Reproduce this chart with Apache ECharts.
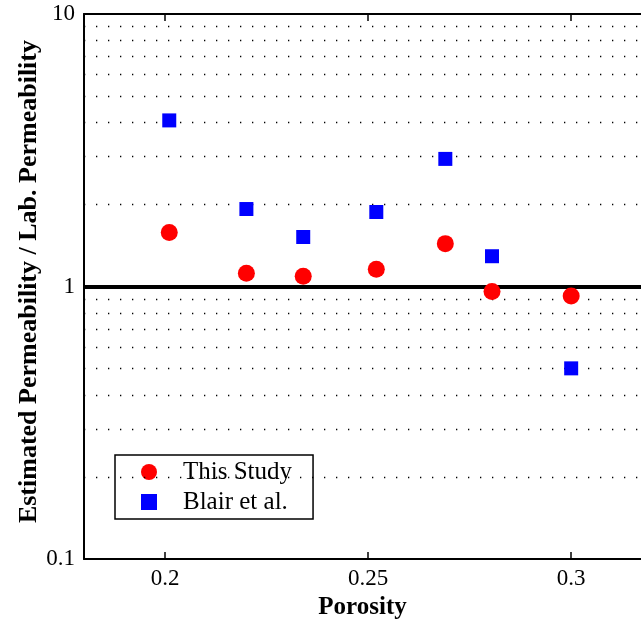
<!DOCTYPE html>
<html>
<head>
<meta charset="utf-8">
<script src="https://cdn.jsdelivr.net/npm/echarts@6/dist/echarts.min.js"></script>
<style>html,body{margin:0;padding:0;background:#fff;}#c{width:641px;height:625px;}</style>
</head>
<body>
<div id="c"></div>
<script>
const porosity = [0.201, 0.220, 0.234, 0.252, 0.269, 0.2805, 0.300];
const thisStudy = [1.58, 1.12, 1.09, 1.158, 1.437, 0.959, 0.924];
const blair = [4.07, 1.925, 1.52, 1.877, 2.94, 1.292, 0.501];
const xTicks = [0.2, 0.25, 0.3];
const gridValues = [0.2, 0.3, 0.4, 0.5, 0.6, 0.7, 0.8, 0.9, 2, 3, 4, 5, 6, 7, 8, 9];
const refValue = 1;

const font = 'Liberation Serif, Times New Roman, serif';
const chart = echarts.init(document.getElementById('c'), null, {renderer: 'canvas'});
chart.setOption({
  animation: false,
  backgroundColor: '#fff',
  textStyle: {fontFamily: font},
  grid: {left: 84, top: 14, right: 0, height: 546, containLabel: false},
  xAxis: [{
    type: 'value', min: 0.18, max: 0.3172, position: 'bottom',
    name: 'Porosity', nameLocation: 'middle', nameGap: 35,
    nameTextStyle: {fontFamily: font, fontWeight: 'bold', fontSize: 25, color: '#000'},
    axisLine: {lineStyle: {color: '#000', width: 2}},
    axisTick: {inside: true, length: 7, customValues: xTicks, lineStyle: {color: '#000', width: 1.5}},
    axisLabel: {customValues: xTicks, margin: 8, fontFamily: font, fontSize: 23, color: '#000',
      formatter: v => String(+(+v).toFixed(2))},
    splitLine: {show: false}
  }, {
    type: 'value', min: 0.18, max: 0.3172, position: 'top',
    axisLine: {lineStyle: {color: '#000', width: 2}},
    axisTick: {inside: true, length: 7, customValues: xTicks, lineStyle: {color: '#000', width: 1.5}},
    axisLabel: {show: false},
    splitLine: {show: false}
  }],
  yAxis: {
    type: 'log', logBase: 10, min: 0.1, max: 10,
    name: 'Estimated Permeability / Lab. Permeability', nameLocation: 'middle', nameGap: 42,
    nameMoveOverlap: false,
    nameTextStyle: {fontFamily: font, fontWeight: 'bold', fontSize: 26, color: '#000', padding: [0, 0, 0, 10]},
    axisLine: {lineStyle: {color: '#000', width: 2}},
    axisTick: {inside: true, length: 7, lineStyle: {color: '#000', width: 1.5}},
    axisLabel: {margin: 9, fontFamily: font, fontSize: 23, color: '#000',
      formatter: v => String(+(+v).toPrecision(3))},
    splitLine: {show: false},
    minorTick: {show: false}
  },
  legend: {
    orient: 'vertical', left: 115, top: 455,
    padding: [4.5, 21, 4.5, 26],
    itemGap: 5, itemWidth: 16, itemHeight: 16,
    borderColor: '#000', borderWidth: 1.5, backgroundColor: '#fff',
    textStyle: {fontFamily: font, fontSize: 25, color: '#000', padding: [0, 0, 0, 21]},
    data: [{name: 'This Study', icon: 'circle'}, {name: 'Blair et al.', icon: 'rect'}]
  },
  series: [
    {
      type: 'line', name: 'grid', data: [], silent: true,
      markLine: {
        silent: true, symbol: 'none', label: {show: false},
        lineStyle: {color: '#000', width: 1.3, type: [1.3, 10.7]},
        data: gridValues.map(v => ({yAxis: v}))
      }
    },
    {
      type: 'line', name: 'ref', data: [], silent: true,
      markLine: {
        silent: true, symbol: 'none', label: {show: false},
        lineStyle: {color: '#000', width: 4, type: 'solid'},
        data: [{yAxis: refValue}]
      }
    },
    {
      type: 'scatter', name: 'This Study', symbol: 'circle', symbolSize: 17,
      itemStyle: {color: '#ff0000', opacity: 1}, z: 5,
      data: porosity.map((x, i) => [x, thisStudy[i]])
    },
    {
      type: 'scatter', name: 'Blair et al.', symbol: 'rect', symbolSize: 14,
      itemStyle: {color: '#0000ff', opacity: 1}, z: 5,
      data: porosity.map((x, i) => [x, blair[i]])
    }
  ]
});
</script>
</body>
</html>
